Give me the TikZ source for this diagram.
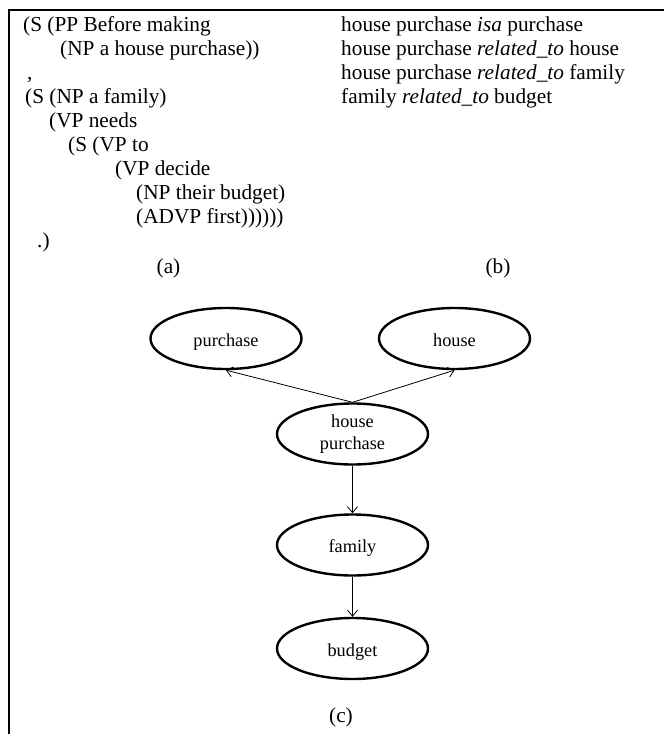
\documentclass[tikz,border=0pt]{standalone}
\usepackage{fontspec}
\setmainfont{Liberation Serif}
\usetikzlibrary{shapes.geometric, arrows.meta}

\begin{document}
\begin{tikzpicture}[
  x=1pt, y=-1pt,
  txt/.style={anchor=base west, inner sep=0pt, font=\fontsize{21.3}{24}\selectfont},
  lbl/.style={anchor=base, inner sep=0pt, font=\fontsize{21.3}{24}\selectfont},
  concept/.style={draw, ellipse, line width=2.4pt, minimum width=151pt, minimum height=61pt, inner sep=0pt, align=center, font=\fontsize{18.3}{21.7}\selectfont},
  word/.style={concept, text height=18pt, text depth=3pt},
  rel/.style={-{Straight Barb[length=6pt,width=10pt]}, line width=0.8pt}
  ]
  \useasboundingbox (0,0) rectangle (664,734);
  % frame
  \draw[line width=2pt] (8.5,734) -- (8.5,9.5) -- (664,9.5);
  % (a) parse
  \node[txt] (t1) at (23,31) {(S (PP Before making};
  \node[txt] (t2) at (60,55) {(NP a house purchase))};
  \node[txt] (t3) at (27,79) {,};
  \node[txt] (t4) at (25,103) {(S (NP a family)};
  \node[txt] (t5) at (49,127) {(VP needs};
  \node[txt] (t6) at (68,151) {(S (VP to};
  \node[txt] (t7) at (115,175) {(VP decide};
  \node[txt] (t8) at (136,199) {(NP their budget)};
  \node[txt] (t9) at (136,223) {(ADVP first))))))};
  \node[txt] (t10) at (37,247) {.)};
  \node[lbl] (capa) at (168.5,273) {(a)};
  % (b) relations
  \node[txt] (r1) at (341,31) {house purchase \textit{isa} purchase};
  \node[txt] (r2) at (341,55) {house purchase \textit{related\_to} house};
  \node[txt] (r3) at (341,79) {house purchase \textit{related\_to} family};
  \node[txt] (r4) at (341,103) {family \textit{related\_to} budget};
  \node[lbl] (capb) at (498,273) {(b)};
  % (c) graph
  \node[word] (purchase) at (226,338.5) {purchase};
  \node[word] (house) at (454.5,338.5) {house};
  \node[concept] (hp) at (352.5,434) {house\\purchase};
  \node[word] (family) at (352.5,545) {family};
  \node[word] (budget) at (352.5,648.5) {budget};
  \draw[rel] (hp.north) -- (purchase.south);
  \draw[rel] (hp.north) -- (house.south);
  \draw[rel] (hp) -- (family);
  \draw[rel] (family) -- (budget);
  \node[lbl] (capc) at (341,722) {(c)};
\end{tikzpicture}
\end{document}
